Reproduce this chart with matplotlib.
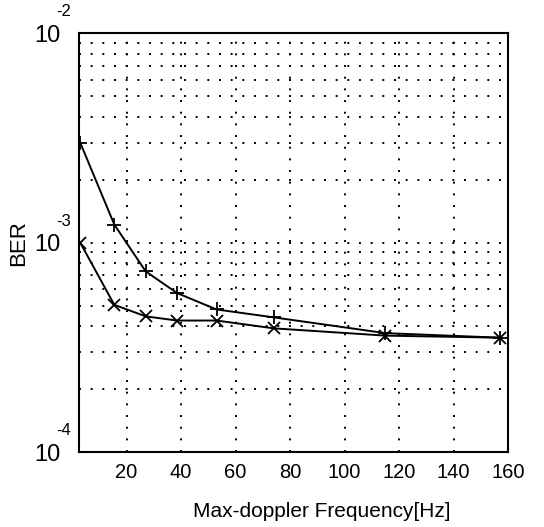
import matplotlib
matplotlib.use("Agg")
import matplotlib.pyplot as plt
from matplotlib.ticker import FixedLocator, LogLocator, NullFormatter

plt.rcParams['font.family'] = ['Liberation Sans', 'DejaVu Sans']

# data
freq = [3, 15.5, 27, 38.5, 53, 74, 115, 157]
ber_plus = [3.0e-3, 1.22e-3, 7.3e-4, 5.75e-4, 4.8e-4, 4.4e-4, 3.7e-4, 3.52e-4]
ber_x = [1.0e-3, 5.05e-4, 4.45e-4, 4.25e-4, 4.25e-4, 3.9e-4, 3.6e-4, 3.52e-4]
xticks = [20, 40, 60, 80, 100, 120, 140, 160]
yticks = [1e-4, 1e-3, 1e-2]
ytick_base = ['10', '10', '10']
ytick_exp = ['-4', '-3', '-2']

fig = plt.figure(figsize=(5.44, 5.27), dpi=100)
ax = fig.add_axes([0.145, 0.142, 0.789, 0.795])

ax.plot(freq, ber_plus, color='black', lw=1.4, marker='+', ms=10, mew=1.3)
ax.plot(freq, ber_x, color='black', lw=1.4, marker='x', ms=8, mew=1.3)

ax.set_yscale('log')
ax.set_xlim(2.5, 160)
ax.set_ylim(1e-4, 1e-2)
ax.set_xticks(xticks)
ax.set_xticklabels([str(t) for t in xticks], fontsize=14.5)
ax.yaxis.set_major_locator(FixedLocator(yticks))
ax.set_yticklabels(ytick_base, fontsize=17)
ax.yaxis.set_minor_locator(LogLocator(base=10, subs=range(2, 10)))
ax.yaxis.set_minor_formatter(NullFormatter())

for t, e in zip(yticks, ytick_exp):
    ax.annotate(e, xy=(0, t), xycoords=('axes fraction', 'data'),
                xytext=(-16, 10), textcoords='offset points',
                ha='left', va='bottom', fontsize=12)

ax.grid(True, which='both', color='black', linestyle=(0, (1, 5)), lw=1.4)
ax.tick_params(axis='x', which='both', direction='in', length=0, pad=8)
ax.tick_params(axis='y', which='both', direction='in', length=0, pad=13)

for s in ax.spines.values():
    s.set_linewidth(1.5)

ax.set_xlabel('Max-doppler Frequency[Hz]', fontsize=15, labelpad=14, x=0.567)
ax.set_ylabel('BER', fontsize=16, labelpad=4)

fig.savefig('out.png', dpi=100)
